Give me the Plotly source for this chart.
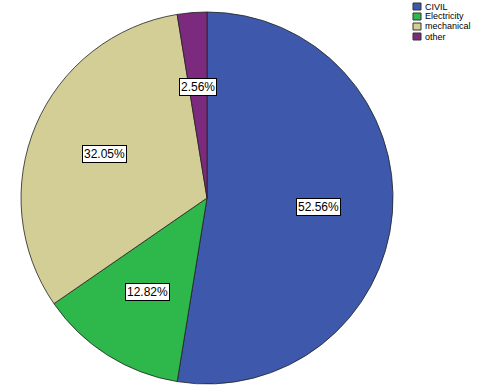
import math
import plotly.graph_objects as go

# department counts (percent labels 52.56 / 12.82 / 32.05 / 2.56 of 78)
labels = ["CIVIL", "Electricity", "mechanical", "other"]
counts = [41, 10, 25, 2]
colors = ["#3e58ac", "#2eb84b", "#d3cd96", "#7c2a7d"]

W, H = 477, 388
dom_x = [0.0, 0.868]
dom_y = [4 / H, 376 / H]

fig = go.Figure(go.Pie(
    labels=labels,
    values=counts,
    sort=False,
    direction="clockwise",
    rotation=0,
    marker=dict(colors=colors, line=dict(color="#222222", width=0.8)),
    textinfo="none",
    hoverinfo="label+percent",
    domain=dict(x=dom_x, y=dom_y),
    showlegend=False,
))

font = dict(family="Arial, Liberation Sans, sans-serif", color="black")

# percent labels in white boxes, placed along each slice's middle angle
total = sum(counts)
r_px = min((dom_x[1] - dom_x[0]) * W, (dom_y[1] - dom_y[0]) * H) / 2
cx = (dom_x[0] + dom_x[1]) / 2
cy = (dom_y[0] + dom_y[1]) / 2
label_frac = 0.6
start = 0.0
for v in counts:
    share = v / total
    mid = (start + share / 2) * 2 * math.pi
    start += share
    fig.add_annotation(
        x=cx + label_frac * r_px * math.sin(mid) / W,
        y=cy + label_frac * r_px * math.cos(mid) / H,
        xref="paper", yref="paper",
        xanchor="center", yanchor="middle",
        text=f"{share * 100:.2f}%",
        showarrow=False,
        font=dict(size=12, **font),
        bgcolor="white",
        bordercolor="black",
        borderwidth=1,
        borderpad=1,
    )

# compact SPSS-style legend in the top-right corner
for i, (lab, col) in enumerate(zip(labels, colors)):
    top = 3 + 10 * i
    fig.add_shape(
        type="rect", xref="paper", yref="paper",
        x0=413 / W, x1=421 / W, y0=1 - (top + 7) / H, y1=1 - top / H,
        fillcolor=col, line=dict(color="#333333", width=1),
    )
    fig.add_annotation(
        x=423 / W, y=1 - (top + 3.5) / H, xref="paper", yref="paper",
        xanchor="left", yanchor="middle",
        text=lab, showarrow=False,
        font=dict(size=9, **font),
    )

fig.update_layout(
    width=W, height=H,
    margin=dict(l=0, r=0, t=0, b=0, autoexpand=False),
    paper_bgcolor="white",
    plot_bgcolor="white",
    showlegend=False,
)

# drop the page's default body margin so the figure sits at the window corner
fig.write_html(
    "out.html",
    config={"displayModeBar": False},
    post_script="document.body.style.margin='0';",
)
